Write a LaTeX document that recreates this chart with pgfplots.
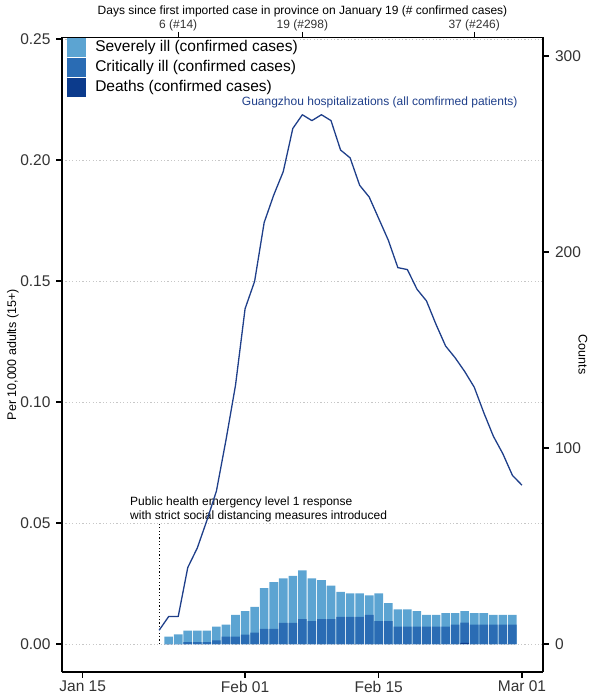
\documentclass[border=0pt]{standalone}
\usepackage{pgfplots}
\usepackage{pgfplotstable}
\pgfplotsset{compat=1.18}
\usepackage{fontspec}
\setmainfont{Liberation Sans}
\definecolor{cSev}{HTML}{5CA4D2}
\definecolor{cCrit}{HTML}{2A6CB4}
\definecolor{cDeath}{HTML}{0C3B8C}
\definecolor{cLine}{HTML}{1F3F8A}
\definecolor{cTick}{HTML}{333333}
\newcommand\fTick{\fontsize{15.5bp}{18bp}\selectfont}
\newcommand\fSmall{\fontsize{12bp}{14bp}\selectfont}
\newcommand\fLab{\fontsize{12.5bp}{15bp}\selectfont}

\pgfplotstableread{
day sev crit death
9  0.0030 0.0000 0
10 0.0040 0.0000 0
11 0.0055 0.0008 0
12 0.0055 0.0008 0
13 0.0055 0.0008 0
14 0.0072 0.0015 0
15 0.0080 0.0030 0
16 0.0120 0.0030 0
17 0.0136 0.0039 0
18 0.0153 0.0047 0
19 0.0231 0.0062 0
20 0.0256 0.0062 0
21 0.0271 0.0087 0
22 0.0282 0.0087 0
23 0.0304 0.0103 0
24 0.0271 0.0095 0
25 0.0264 0.0103 0
26 0.0241 0.0103 0
27 0.0215 0.0112 0
28 0.0209 0.0112 0
29 0.0209 0.0112 0
30 0.0201 0.0120 0
31 0.0209 0.0095 0
32 0.0169 0.0095 0
33 0.0143 0.0072 0
34 0.0143 0.0072 0
35 0.0136 0.0072 0
36 0.0120 0.0072 0
37 0.0120 0.0072 0
38 0.0128 0.0072 0
39 0.0128 0.0080 0
40 0.0136 0.0088 0.0005
41 0.0128 0.0080 0
42 0.0128 0.0080 0
43 0.0120 0.0080 0
44 0.0120 0.0080 0
45 0.0120 0.0080 0
}\bars

\pgfplotstableread{
day count
8  7
9  14
10 14
11 39
12 49
13 63
14 78
15 104
16 132
17 171
18 185
19 215
20 229
21 241
22 263
23 270
24 267
25 270
26 267
27 252
28 248
29 234
30 228
31 217
32 206
33 192
34 191
35 181
36 175
37 163
38 152
39 146
40 139
41 131
42 118
43 106
44 97
45 86
46 81
}\hosp

\begin{document}
\begin{tikzpicture}
\pgfplotsset{
  base/.style={
    width=481bp, height=634.5bp, scale only axis,
    xmin=-2.17, xmax=48.2,
    major tick length=5.5bp,
    axis line style={line width=1.1bp, black},
    tick style={black, line width=1.2bp},
    major tick style={black, line width=1.2bp},
    /pgf/number format/assume math mode=true,
  },
}
% grid-only axis
\begin{axis}[base,
  ymin=-0.01157, ymax=0.25062,
  xtick=\empty,
  ytick={0,0.05,0.1,0.15,0.2,0.25},
  yticklabels={},
  major tick length=0pt,
  axis line style={draw=none},
  ymajorgrids,
  major grid style={color=black!22, line width=0.6bp, dash pattern=on 1.2bp off 2.2bp},
]
\end{axis}
\begin{axis}[base,
  ymin=-0.01157, ymax=0.25062,
  axis x line=bottom, axis y line=left,
  x axis line style={-}, y axis line style={-},
  tick align=outside,
  xtick={0,17,31,46},
  xticklabels={Jan 15,Feb 01,Feb 15,Mar 01},
  ytick={0,0.05,0.1,0.15,0.2,0.25},
  yticklabels={0.00,0.05,0.10,0.15,0.20,0.25},
  yticklabel shift=2.5bp,
  ticklabel style={font=\fTick, color=cTick},
  ylabel={Per 10,000 adults (15+)},
  every axis y label/.style={at={(axis description cs:-0.1019,0.5)}, rotate=90, anchor=center, font=\fLab},
  legend cell align=left,
  legend style={at={(axis description cs:0.011,0.9992)}, anchor=north west,
    draw=none, fill=white, inner sep=0pt, outer sep=0pt, row sep=0pt,
    font=\fTick,
    nodes={inner sep=0pt, text height=11.2bp, text depth=3.3bp},
    /tikz/every odd column/.append style={column sep=9bp}},
]
\coordinate (LL) at (rel axis cs:0,0);
\coordinate (UR) at (rel axis cs:1,1);
\addplot[ybar, bar width=0.9, bar shift=0pt, fill=cSev, draw=none,
  legend image code/.code={\path[fill=cSev] (0bp,-9.35bp) rectangle (19bp,9.35bp); \path (0bp,-9.85bp) -- (0bp,9.85bp);}]
  table[x=day, y=sev] {\bars};
\addlegendentry{Severely ill (confirmed cases)}
\addplot[ybar, bar width=0.9, bar shift=0pt, fill=cCrit, draw=none,
  legend image code/.code={\path[fill=cCrit] (0bp,-9.35bp) rectangle (19bp,9.35bp); \path (0bp,-9.85bp) -- (0bp,9.85bp);}]
  table[x=day, y=crit] {\bars};
\addlegendentry{Critically ill (confirmed cases)}
\addplot[ybar, bar width=0.9, bar shift=0pt, fill=cDeath, draw=none,
  legend image code/.code={\path[fill=cDeath] (0bp,-9.35bp) rectangle (19bp,9.35bp); \path (0bp,-9.85bp) -- (0bp,9.85bp);}]
  table[x=day, y=death] {\bars};
\addlegendentry{Deaths (confirmed cases)}
\addplot[black, line width=1.2bp, dash pattern=on 1.2bp off 2.2bp, forget plot]
  coordinates {(8,0) (8,0.05)};
\node[anchor=west, align=left, font=\fSmall, inner sep=0pt] at (axis cs:4.95,0.0558)
  {Public health emergency level 1 response\\with strict social distancing measures introduced};
\end{axis}

\begin{axis}[base,
  ymin=-14.29, ymax=309.4,
  axis x line=top, axis y line=right,
  x axis line style={-}, y axis line style={-},
  tick align=outside,
  xtick={10,23,41},
  xticklabels={6 (\#14),19 (\#298),37 (\#246)},
  xticklabel shift=-3bp,
  xticklabel style={font=\fSmall, color=cTick},
  ytick={0,100,200,300},
  yticklabels={0,100,200,300},
  yticklabel shift=3bp,
  yticklabel style={font=\fTick, color=cTick},
  xlabel={Days since first imported case in province on January 19 (\# confirmed cases)},
  ylabel={Counts},
  every axis x label/.style={at={(axis description cs:0.5,1.0415)}, anchor=center, font=\fSmall},
  every axis y label/.style={at={(axis description cs:1.0832,0.5)}, rotate=-90, anchor=center, font=\fLab},
]
\addplot[cLine, line width=1.3bp, line join=round] table[x=day, y=count] {\hosp};
\node[font=\fSmall, color=cLine] at (axis cs:31.1,276.5) {Guangzhou hospitalizations (all comfirmed patients)};
\end{axis}
\pgfresetboundingbox
\path[use as bounding box] ([shift={(-62bp,-27bp)}]LL) rectangle ([shift={(53bp,37.5bp)}]UR);
\end{tikzpicture}
\end{document}
